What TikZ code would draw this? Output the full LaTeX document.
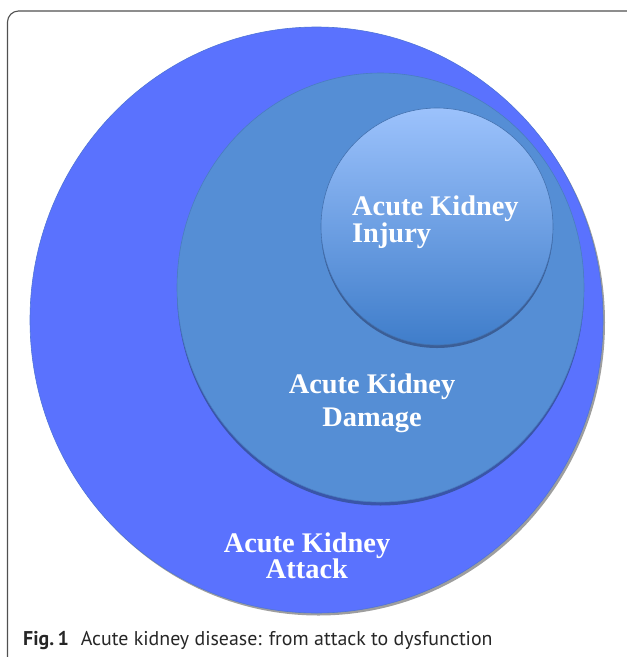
\documentclass[tikz,border=0pt]{standalone}
\usepackage{fontspec}
\setmainfont{Liberation Serif}
\newfontfamily\capfont{PT Sans}
\definecolor{outerblue}{HTML}{5A72FE}
\definecolor{outeredge}{HTML}{4F74D8}
\definecolor{midblue}{HTML}{558ED5}
\definecolor{midedge}{HTML}{4A7DC0}
\definecolor{midshadow}{HTML}{3A55A8}
\definecolor{innertop}{HTML}{9CC2FC}
\definecolor{innermid}{HTML}{79A6EA}
\definecolor{innerbot}{HTML}{3F7DCA}
\definecolor{inneredge}{HTML}{4472B0}
\definecolor{innershadow}{HTML}{3B5E96}
\definecolor{framegray}{HTML}{505050}
\tikzset{
  labeltext/.style={text=white, font=\fontsize{28.4}{28.4}\selectfont\bfseries, inner sep=0pt},
  captext/.style={text=black!85, font=\capfont\fontsize{19.9}{19.9}\selectfont, inner sep=0pt, anchor=base west},
  framebox/.style={draw=framegray, line width=1.1pt, rounded corners=11pt}
}
\begin{document}
\begin{tikzpicture}[x=1pt,y=-1pt]
\useasboundingbox (0,0) rectangle (627,657);
\begin{scope}
\clip (0,0) rectangle (627,657);
\draw[framebox] (7.5,11) rectangle (638,668);
\end{scope}
% outer circle
\fill[black!38] (318.5,322.5) ellipse [x radius=286.5, y radius=293];
\fill[outerblue, draw=outeredge, line width=0.6pt] (316.5,320) ellipse [x radius=286.5, y radius=293];
% middle circle
\fill[midshadow] (380.5,291) ellipse [x radius=203.5, y radius=214.5];
\fill[midblue, draw=midedge, line width=0.6pt] (380.5,287.5) ellipse [x radius=203.5, y radius=214.5];
% inner circle
\fill[innershadow] (437,229.5) ellipse [x radius=116, y radius=118.5];
\shade[top color=innertop, middle color=innermid, bottom color=innerbot] (437,226.5) ellipse [x radius=116, y radius=118.5];
\draw[inneredge, line width=0.6pt] (437,226.5) ellipse [x radius=116, y radius=118.5];
% labels
\node[labeltext, anchor=base west] (inj1) at (352,215) {Acute Kidney};
\node[labeltext, anchor=base west] (inj2) at (352,242) {Injury};
\node[labeltext, anchor=base] (dam1) at (372,393) {Acute Kidney};
\node[labeltext, anchor=base] (dam2) at (372,426) {Damage};
\node[labeltext, anchor=base] (att1) at (307,552) {Acute Kidney};
\node[labeltext, anchor=base] (att2) at (307,578) {Attack};
% caption
\node[captext] (cap) at (23,645) {\textbf{Fig.\,1}\hspace{12pt}Acute kidney disease: from attack to dysfunction};
\end{tikzpicture}
\end{document}
